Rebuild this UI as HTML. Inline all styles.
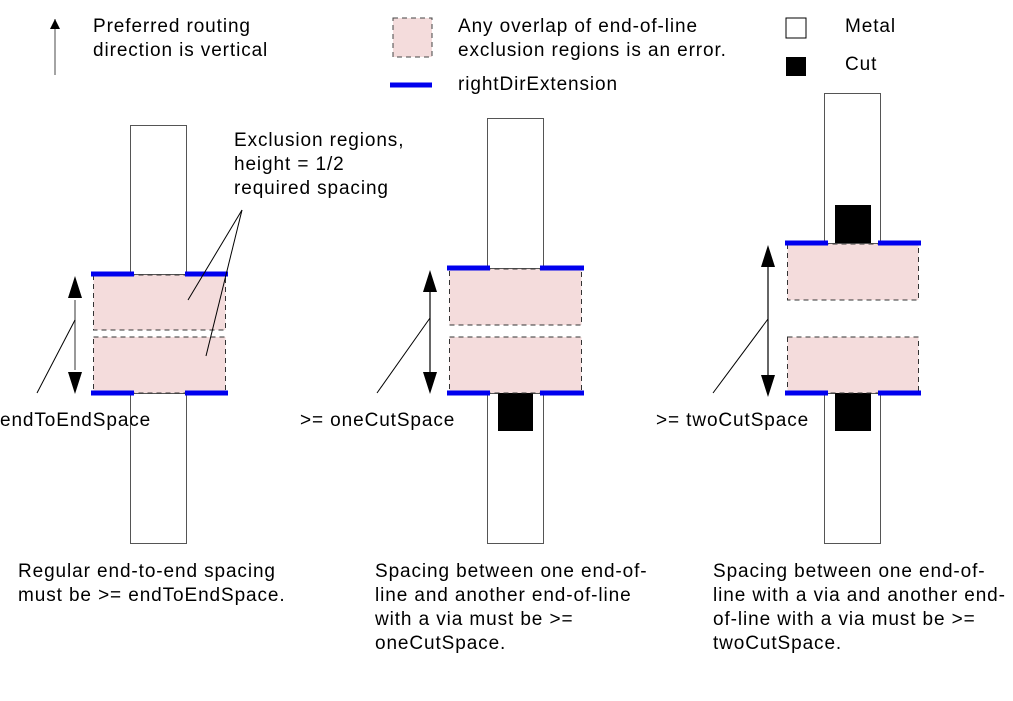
<!DOCTYPE html>
<html><head><meta charset="utf-8"><style>
body{margin:0;background:#fff}
svg text{font-family:"Liberation Sans",sans-serif;font-size:19px;letter-spacing:0.9px;fill:#000}
</style></head><body>
<svg width="1013" height="696" viewBox="0 0 1013 696" xmlns="http://www.w3.org/2000/svg">
<defs>
<marker id="ah" viewBox="0 0 10 10" refX="10" refY="5" markerWidth="13" markerHeight="10" markerUnits="userSpaceOnUse" orient="auto-start-reverse"><path d="M0,0 L10,5 L0,10 z" fill="#000"/></marker>
</defs>
<g>
<line x1="55" y1="75" x2="55" y2="19" stroke="#666" stroke-width="1.2" marker-end="url(#ah)"/>
<text x="93" y="32">Preferred routing</text>
<text x="93" y="56">direction is vertical</text>
<rect x="393" y="18" width="39" height="39" fill="#f4dcdc" stroke="#444" stroke-dasharray="5,4"/>
<text x="458" y="32">Any overlap of end-of-line</text>
<text x="458" y="56">exclusion regions is an error.</text>
<line x1="390" y1="85" x2="432" y2="85" stroke="#0000ee" stroke-width="5"/>
<text x="458" y="90">rightDirExtension</text>
<rect x="786" y="18" width="20" height="20" fill="#fff" stroke="#000"/>
<text x="845" y="32">Metal</text>
<rect x="786" y="57" width="20" height="19" fill="#000"/>
<text x="845" y="70">Cut</text>
</g>
<g>
<rect x="130.5" y="125.5" width="56" height="149" fill="#fff" stroke="#555"/>
<rect x="130.5" y="393.5" width="56" height="150" fill="#fff" stroke="#555"/>
<rect x="93.5" y="275" width="132" height="55" fill="#f4dcdc" stroke="#333" stroke-dasharray="5,4"/>
<rect x="93.5" y="337" width="132" height="56" fill="#f4dcdc" stroke="#333" stroke-dasharray="5,4"/>
<g stroke="#0000ee" stroke-width="5"><line x1="91" y1="274" x2="134" y2="274"/><line x1="185" y1="274" x2="228" y2="274"/><line x1="91" y1="393" x2="134" y2="393"/><line x1="185" y1="393" x2="228" y2="393"/></g>
<line x1="75" y1="300" x2="75" y2="370" stroke="#555" stroke-width="1.2"/>
<path d="M75,276 L68,298 L82,298 z M75,394 L68,372 L82,372 z" fill="#000"/>
<line x1="37" y1="393" x2="75" y2="320" stroke="#000"/>
<line x1="242" y1="210" x2="188" y2="300" stroke="#000"/>
<line x1="242" y1="210" x2="206" y2="356" stroke="#000"/>
<text x="234" y="146">Exclusion regions,</text>
<text x="234" y="170">height = 1/2</text>
<text x="234" y="194">required spacing</text>
<text x="0" y="426">endToEndSpace</text>
<text x="18" y="577">Regular end-to-end spacing</text>
<text x="18" y="601">must be &gt;= endToEndSpace.</text>
</g>
<g>
<rect x="487.5" y="118.5" width="56" height="150" fill="#fff" stroke="#555"/>
<rect x="487.5" y="393.5" width="56" height="150" fill="#fff" stroke="#555"/>
<rect x="498" y="393" width="35" height="38" fill="#000"/>
<rect x="449.5" y="269" width="132" height="56" fill="#f4dcdc" stroke="#333" stroke-dasharray="5,4"/>
<rect x="449.5" y="337" width="132" height="56" fill="#f4dcdc" stroke="#333" stroke-dasharray="5,4"/>
<g stroke="#0000ee" stroke-width="5"><line x1="447" y1="268" x2="490" y2="268"/><line x1="540" y1="268" x2="584" y2="268"/><line x1="447" y1="393" x2="490" y2="393"/><line x1="540" y1="393" x2="584" y2="393"/></g>
<line x1="430" y1="292" x2="430" y2="372" stroke="#000" stroke-width="1.2"/>
<path d="M430,270 L423,292 L437,292 z M430,394 L423,372 L437,372 z" fill="#000"/>
<line x1="377" y1="393" x2="430" y2="318" stroke="#000"/>
<text x="300" y="426">&gt;= oneCutSpace</text>
<text x="375" y="577">Spacing between one end-of-</text>
<text x="375" y="601">line and another end-of-line</text>
<text x="375" y="625">with a via must be &gt;=</text>
<text x="375" y="649">oneCutSpace.</text>
</g>
<g>
<rect x="824.5" y="93.5" width="56" height="150" fill="#fff" stroke="#555"/>
<rect x="824.5" y="393.5" width="56" height="150" fill="#fff" stroke="#555"/>
<rect x="835" y="205" width="36" height="38" fill="#000"/>
<rect x="835" y="393" width="36" height="38" fill="#000"/>
<rect x="787.5" y="244" width="131" height="56" fill="#f4dcdc" stroke="#333" stroke-dasharray="5,4"/>
<rect x="787.5" y="337" width="131" height="56" fill="#f4dcdc" stroke="#333" stroke-dasharray="5,4"/>
<g stroke="#0000ee" stroke-width="5"><line x1="785" y1="243" x2="828" y2="243"/><line x1="878" y1="243" x2="921" y2="243"/><line x1="785" y1="393" x2="828" y2="393"/><line x1="878" y1="393" x2="921" y2="393"/></g>
<line x1="768" y1="266" x2="768" y2="376" stroke="#000" stroke-width="1.2"/>
<path d="M768,245 L761,267 L775,267 z M768,397 L761,375 L775,375 z" fill="#000"/>
<line x1="713" y1="393" x2="768" y2="319" stroke="#000"/>
<text x="656" y="426">&gt;= twoCutSpace</text>
<text x="713" y="577">Spacing between one end-of-</text>
<text x="713" y="601">line with a via and another end-</text>
<text x="713" y="625">of-line with a via must be &gt;=</text>
<text x="713" y="649">twoCutSpace.</text>
</g>
</svg>
</body></html>
